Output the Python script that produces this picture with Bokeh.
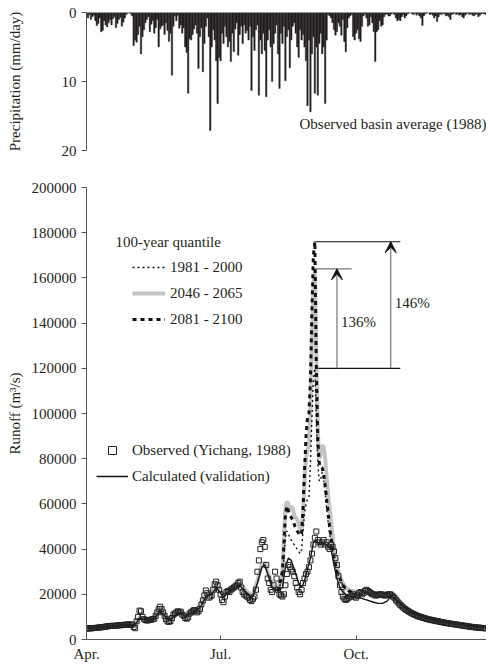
from bokeh.plotting import figure
from bokeh.layouts import column
from bokeh.models import (Range1d, FixedTicker, Span, Label, Legend, LegendItem,
                          Arrow, VeeHead, BasicTickFormatter)
from bokeh.embed import file_html
from bokeh.resources import INLINE

FONT = "Liberation Serif"
TXT = "#231f20"

# ---------------- data (day index: 0 = 1 April 1988) ----------------
precip = [
    0.5, 0.8, 0.3, 1.0, 0.6, 0.4, 1.2, 1.9, 1.6, 0.8,
    2.8, 2.6, 1.2, 1.8, 2.1, 1.5, 1.0, 1.8, 0.9, 0.6,
    2.2, 1.6, 1.0, 0.7, 2.0, 1.4, 0.8, 0.3, 0.1, 0.0,
    0.2, 0.5, 4.8, 4.0, 4.3, 3.2, 2.0, 6.0, 3.5, 2.5,
    1.5, 1.0, 0.6, 2.8, 1.7, 1.2, 3.0, 2.2, 1.0, 5.0,
    2.4, 2.0, 1.8, 3.2, 1.5, 2.6, 4.2, 3.0, 9.1, 2.0,
    0.5, 1.2, 0.4, 2.3, 1.8, 3.0, 2.2, 5.0, 5.8, 11.7,
    3.8, 4.0, 3.2, 2.4, 1.8, 3.0, 8.1, 3.5, 2.2, 8.6,
    4.5, 2.0, 0.8, 3.5, 17.1, 5.0, 2.5, 4.0, 7.0, 13.2,
    6.5, 7.0, 3.0, 4.5, 2.0, 3.5, 5.0, 4.2, 7.1, 3.0,
    5.7, 2.4, 1.5, 6.2, 3.2, 2.0, 4.5, 1.8, 3.0, 2.6,
    4.0, 2.0, 11.3, 3.5, 5.5, 2.5, 1.8, 12.0, 4.0, 6.0,
    3.0, 5.5, 12.2, 4.0, 2.5, 5.0, 10.0, 4.5, 3.0, 1.8,
    6.0, 11.0, 3.0, 4.5, 2.0, 9.9, 3.5, 2.5, 8.0, 4.0,
    2.0, 1.5, 3.0, 5.0, 6.5, 2.5, 4.0, 3.2, 5.0, 7.0,
    13.5, 4.0, 14.4, 6.0, 3.5, 11.7, 5.0, 12.0, 4.5, 3.0,
    6.0, 5.0, 13.2, 4.0, 0.3, 0.5, 0.8, 1.5, 2.5, 3.3,
    2.8, 1.5, 2.0, 3.3, 1.0, 4.2, 5.7, 2.2, 0.8, 0.5,
    0.3, 3.5, 4.0, 3.0, 2.5, 3.8, 4.2, 2.0, 0.5, 0.2,
    0.8, 2.0, 1.8, 0.6, 1.5, 2.8, 7.1, 2.8, 2.5, 1.2,
    2.0, 1.8, 0.6, 0.3, 0.2, 0.5, 0.5, 0.2, 0.1, 0.3,
    0.8, 1.2, 1.0, 1.2, 0.6, 0.3, 0.8, 0.5, 0.2, 0.1,
    0.0, 0.2, 0.3, 0.1, 0.4, 0.2, 0.5, 0.8, 1.9, 0.5,
    0.2, 0.1, 0.0, 0.3, 0.2, 0.4, 0.8, 0.5, 1.3, 0.6,
    0.2, 0.3, 0.1, 0.2, 0.5, 0.4, 0.6, 1.0, 0.3, 0.2,
    0.1, 0.3, 0.2, 0.4, 0.3, 0.6, 0.8, 0.4, 0.2, 0.1,
    0.3, 0.2, 0.4, 0.5, 0.3, 0.2, 0.6, 0.4, 0.2, 0.1,
    0.2, 0.3,
]

observed = [
    4800, 4900, 5000, 4900, 5000, 5100, 5100, 5200, 5300, 5300,
    5400, 5500, 5600, 5700, 5800, 5900, 6000, 6000, 6100, 6000,
    6100, 6200, 6300, 6300, 6400, 6400, 6500, 6600, 6600, 6700,
    6500, 6600, 5500, 5000, 8000, 10000, 12800, 12500, 10000, 9000,
    8600, 8400, 8500, 8700, 8800, 9000, 9200, 10500, 12000, 13500,
    14500, 13500, 12000, 10500, 9000, 8000, 7800, 8200, 9500, 11000,
    11500, 12000, 12500, 12000, 12300, 11000, 10500, 9500, 9200, 9800,
    11500, 12000, 12500, 13000, 12800, 12000, 12500, 13500, 15500, 17300,
    19500, 21700, 20500, 18500, 19000, 19500, 22000, 24500, 25600, 24000,
    22000, 20000, 17500, 16500, 19000, 21000, 21500, 21000, 22000, 22500,
    23000, 23500, 24000, 25000, 25600, 23000, 21000, 20000, 19500, 19000,
    18500, 17500, 17000, 18000, 19000, 22000, 30000, 35000, 40000, 43000,
    44000, 41000, 33000, 27000, 25000, 22000, 21000, 24000, 30000, 27000,
    22000, 20000, 19500, 19000, 20000, 24000, 29000, 33000, 32000, 31000,
    30000, 28000, 25000, 23000, 21000, 20000, 22000, 25000, 27000, 29000,
    30000, 32000, 35000, 38000, 42000, 45000, 47800, 44000, 43000, 42000,
    43000, 44000, 42000, 43000, 41000, 40000, 42000, 41000, 39000, 36000,
    33000, 28000, 24000, 21000, 19000, 18000, 17500, 18000, 18500, 19000,
    19500, 20000, 19000, 18500, 19500, 20500, 21000, 20000, 20500, 21500,
    22000, 21500, 21000, 20500, 20000, 20000, 19500, 19500, 19800, 20000,
    20000, 19800, 19500, 19500, 19800, 20000, 20000, 19500, 19000, 18500,
    17500, 16800, 16000, 15300, 14700, 14100, 13600, 13100, 12700, 12300,
    11900, 11500, 11200, 10900, 10600, 10300, 10100, 9900, 9700, 9500,
    9300, 9100, 8900, 8800, 8600, 8500, 8400, 8200, 8100, 8000,
    7800, 7700, 7600, 7400, 7300, 7200, 7100, 7000, 6900, 6800,
    6700, 6600, 6500, 6400, 6300, 6200, 6100, 6000, 5900, 5800,
    5700, 5600, 5500, 5450, 5400, 5300, 5250, 5200, 5100, 5050,
    5000, 4950,
]

calc_day = [0, 5, 10, 15, 20, 25, 30, 32, 34, 36, 38, 42, 46, 48, 50, 53, 56, 60, 64, 67,
            70, 75, 78, 81, 85, 88, 91, 93, 96, 100, 104, 107, 110, 113, 116, 119, 121, 123,
            126, 130, 133, 135, 137, 139, 141, 144, 146, 148, 150, 152, 154, 156, 158, 161,
            164, 166, 168, 170, 172, 174, 177, 180, 185, 190, 195, 198, 201, 204, 207, 210,
            215, 220, 230, 240, 250, 260, 271]
calc_val = [5000, 5200, 5500, 5800, 6100, 6300, 6500, 6000, 7500, 9500, 9000, 8500, 9000,
            11000, 12500, 10500, 8500, 10500, 12000, 10000, 11500, 12800, 15000, 19000, 20000,
            23000, 20500, 18500, 21000, 22500, 24000, 21500, 19500, 19000, 25000, 32000, 33000,
            29000, 23000, 21500, 23000, 32000, 36000, 35000, 31000, 25000, 23000, 26000, 31000,
            36000, 43000, 44000, 42000, 43000, 41000, 40000, 33000, 27000, 23000, 21000, 19500,
            19000, 18500, 17500, 16500, 16000, 16000, 17000, 19500, 17500, 14500, 12000, 9500,
            8000, 6900, 6000, 5200]

q2046_day = [0, 10, 20, 30, 32, 34, 36, 38, 42, 46, 48, 50, 53, 56, 60, 64, 67, 70, 75, 78,
             81, 85, 88, 91, 93, 96, 100, 104, 107, 110, 113, 116, 119, 121, 123, 126, 130,
             132, 133, 134, 135, 136, 137, 138, 139, 140, 141, 142, 143, 144, 145, 146, 147,
             148, 149, 150, 151, 152, 153, 154, 155, 156, 157, 158, 159, 160, 161, 162, 163,
             164, 165, 166, 167, 168, 169, 170, 172, 174, 176, 178, 180, 185, 190, 195, 200,
             205, 208, 210, 215, 220, 230, 240, 250, 260, 271]
q2046_val = [5200, 5700, 6300, 6700, 6200, 7700, 9800, 9300, 8800, 9300, 11500, 13000, 11000,
             9000, 11000, 12500, 10500, 12000, 13500, 16000, 20000, 21000, 24000, 21500, 19500,
             22000, 23500, 25000, 22500, 20500, 20000, 26000, 33000, 34000, 30000, 24000, 22500,
             26000, 30000, 45000, 58000, 61000, 60000, 57000, 59000, 58000, 55000, 54000, 53000,
             51000, 49000, 48000, 56000, 70000, 80000, 84000, 86000, 100000, 130000, 155000,
             164000, 125000, 92000, 80000, 82000, 86000, 85000, 80000, 72000, 64000, 58000,
             52000, 46000, 40000, 36000, 32000, 28000, 25000, 23000, 22000, 21500, 21000, 20500,
             20000, 20000, 20500, 20500, 18500, 15000, 12500, 10000, 8400, 7200, 6300, 5400]

flood_day = [130, 133, 134, 135, 136, 137, 138, 139, 140, 141, 142, 143, 144, 145, 146, 147,
             148, 149, 150, 151, 152, 153, 154, 155, 156, 157, 158, 159, 160, 161, 162, 163,
             164, 165, 166, 167, 168, 169, 170, 172, 174, 176, 178, 180, 183]
q1981_val = [21500, 27000, 36000, 45000, 48000, 47000, 45000, 44000, 43000, 42000, 41000,
             40000, 39000, 38000, 40000, 48000, 56000, 60000, 62000, 63000, 78000, 98000,
             115000, 120000, 98000, 78000, 70000, 71000, 74000, 71000, 65000, 58000, 52000,
             47000, 43000, 39000, 35000, 32000, 29500, 26500, 24000, 22000, 21000, 20500, 20000]
q2081_val = [21500, 30000, 42000, 55000, 59000, 57000, 55000, 54000, 53000, 51000, 49000,
             48000, 47000, 46000, 47000, 58000, 75000, 90000, 98000, 100000, 115000, 145000,
             170000, 176000, 120000, 88000, 78000, 76000, 76000, 73000, 68000, 62000, 56000,
             50000, 45000, 40000, 36000, 33000, 30000, 27000, 24000, 22500, 21500, 21000, 20500]

month_ticks = [0, 91, 183]
month_labels = ["Apr.", "Jul.", "Oct."]
runoff_ticks = [0, 20000, 40000, 60000, 80000, 100000, 120000, 140000, 160000, 180000, 200000]
precip_ticks = [0, 10, 20]
pct_labels = ["136%", "146%"]

days = list(range(len(precip)))
obs_days = list(range(len(observed)))
XMAX = len(precip) - 0.5


def style_axis(ax, size="15px"):
    ax.axis_line_color = "#555555"
    ax.major_tick_line_color = "#555555"
    ax.minor_tick_line_color = None
    ax.major_label_text_font = FONT
    ax.major_label_text_font_size = size
    ax.major_label_text_color = TXT
    ax.axis_label_text_font = FONT
    ax.axis_label_text_font_size = size
    ax.axis_label_text_font_style = "normal"
    ax.axis_label_text_color = TXT


# ---------------- top panel: precipitation ----------------
p1 = figure(width=486, height=170, output_backend="svg", toolbar_location=None,
            x_range=Range1d(0, XMAX), y_range=Range1d(20, 0),
            min_border_left=86, min_border_right=0, min_border_top=12, min_border_bottom=20)
p1.xaxis.visible = False
p1.grid.visible = False
p1.outline_line_color = None
p1.vbar(x=days, width=1.0, top=precip, bottom=0, fill_color=TXT, line_color=TXT,
        line_width=0.4)
p1.add_layout(Span(location=0, dimension="width", line_color="#999999", line_width=1.2))
style_axis(p1.yaxis[0])
p1.yaxis.ticker = FixedTicker(ticks=precip_ticks)
p1.yaxis.major_tick_out = 5
p1.yaxis.major_tick_in = 0
p1.yaxis.major_label_standoff = 5
p1.yaxis.axis_label = "Precipitation (mm/day)"
p1.yaxis.axis_label_standoff = 36
p1.add_layout(Label(x=XMAX, y=16.2, text="Observed basin average (1988)",
                    text_font=FONT, text_font_size="15px", text_color=TXT,
                    text_align="right", text_baseline="middle"))

# ---------------- bottom panel: runoff ----------------
p2 = figure(width=486, height=494, output_backend="svg", toolbar_location=None,
            x_range=Range1d(0, XMAX), y_range=Range1d(0, 200000),
            min_border_left=86, min_border_right=0, min_border_top=17, min_border_bottom=25)
p2.grid.visible = False
p2.outline_line_color = None
style_axis(p2.xaxis[0])
style_axis(p2.yaxis[0])
p2.xaxis.ticker = FixedTicker(ticks=month_ticks)
p2.xaxis.major_label_overrides = dict(zip(month_ticks, month_labels))
p2.xaxis.major_tick_in = 4
p2.xaxis.major_tick_out = 0
p2.xaxis.major_label_standoff = 6
p2.yaxis.ticker = FixedTicker(ticks=runoff_ticks)
p2.yaxis.formatter = BasicTickFormatter(use_scientific=False)
p2.yaxis.major_tick_out = 5
p2.yaxis.major_tick_in = 0
p2.yaxis.major_label_standoff = 5
p2.yaxis.axis_label = "Runoff (m\u00b3/s)"
p2.yaxis.axis_label_standoff = 6

r_grey = p2.line(q2046_day, q2046_val, line_color="#c4c4c4", line_width=4)
r_dot = p2.line(flood_day, q1981_val, line_color="#111111", line_width=1.4, line_dash="2 3")
r_dash = p2.line(flood_day, q2081_val, line_color="#111111", line_width=3, line_dash="4 4")
r_calc = p2.line(calc_day, calc_val, line_color="#111111", line_width=1.4)
r_obs = p2.scatter(obs_days, observed, marker="square", size=5, fill_color=None,
                   line_color="#222222", line_width=1)

# percentage increase annotations
base = max(q1981_val)
peak46 = max(q2046_val)
peak81 = max(q2081_val)
d_peak = flood_day[q2081_val.index(peak81)]
p2.segment(x0=[d_peak - 0.3, d_peak, d_peak + 2.3],
           y0=[peak81, peak46, base], x1=[d_peak + 58, d_peak + 25, d_peak + 58],
           y1=[peak81, peak46, base], line_color=["#111111", "#777777", "#111111"],
           line_width=1.2)
for xa, ya, lab, yl in [(d_peak + 15, peak46, pct_labels[0], 140300),
                        (d_peak + 51.5, peak81, pct_labels[1], 149100)]:
    p2.add_layout(Arrow(end=VeeHead(size=11, fill_color="#111111", line_color="#111111"),
                        x_start=xa, y_start=base, x_end=xa, y_end=ya,
                        line_color="#777777", line_width=1.2))
    p2.add_layout(Label(x=xa + 2.7, y=yl, text=lab, text_font=FONT, text_font_size="15px",
                        text_color=TXT, text_baseline="middle"))

p2.add_layout(Label(x=19.7, y=176000, text="100-year quantile", text_font=FONT,
                    text_font_size="15px", text_color=TXT, text_baseline="middle"))

leg1 = Legend(items=[LegendItem(label="1981 - 2000", renderers=[r_dot]),
                     LegendItem(label="2046 - 2065", renderers=[r_grey]),
                     LegendItem(label="2081 - 2100", renderers=[r_dash])],
              location=(46, 310), glyph_width=33, glyph_height=20, label_height=20,
              spacing=6, padding=0, margin=0, label_standoff=5,
              border_line_color=None, background_fill_alpha=0,
              label_text_font=FONT, label_text_font_size="15px", label_text_color=TXT)
leg2 = Legend(items=[LegendItem(label="Observed (Yichang, 1988)", renderers=[r_obs]),
                     LegendItem(label="Calculated (validation)", renderers=[r_calc])],
              location=(10, 153), glyph_width=32, glyph_height=20, label_height=20,
              spacing=6, padding=0, margin=0, label_standoff=4,
              border_line_color=None, background_fill_alpha=0,
              label_text_font=FONT, label_text_font_size="15px", label_text_color=TXT)
p2.add_layout(leg1)
p2.add_layout(leg2)

layout = column(p1, p2, spacing=0)
open("out.html", "w").write(file_html(layout, INLINE))
